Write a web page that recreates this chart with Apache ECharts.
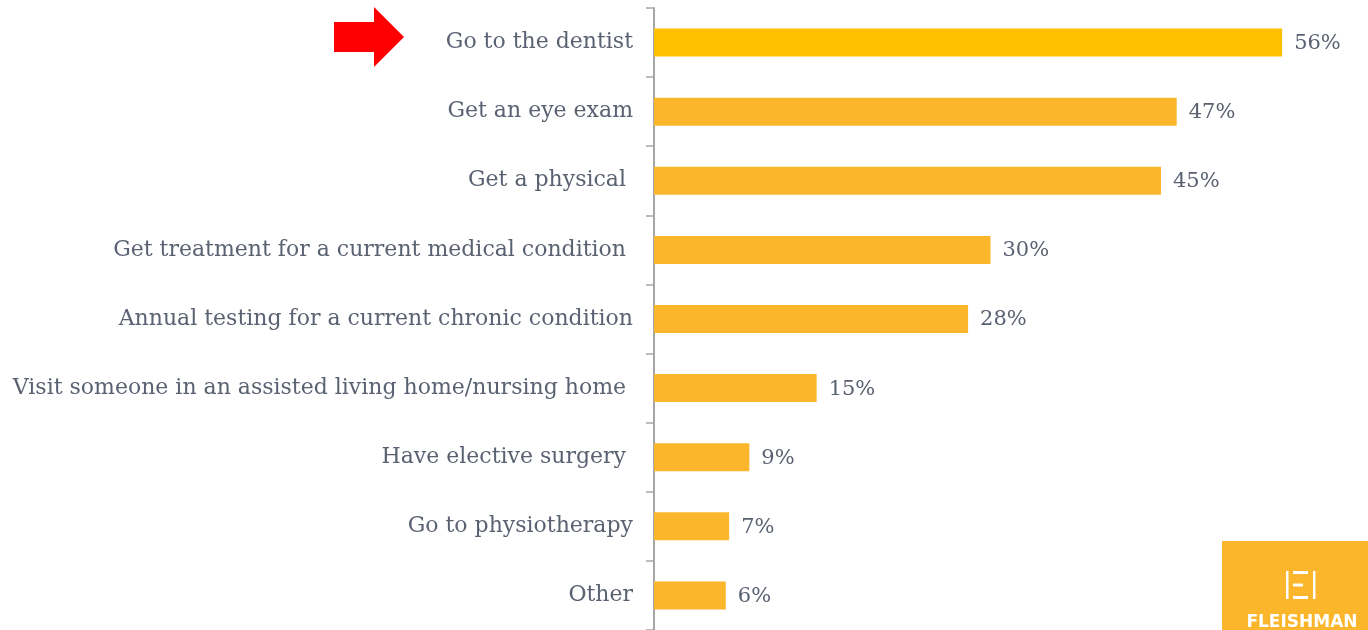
<!DOCTYPE html>
<html><head><meta charset="utf-8">
<script src="https://cdn.jsdelivr.net/npm/echarts@6/dist/echarts.min.js"></script>
<style>html,body{margin:0;padding:0;background:#fff}#c{width:1368px;height:630px}</style>
</head><body><div id="c"></div>
<script>
const categories = ["Go to the dentist","Get an eye exam","Get a physical ","Get treatment for a current medical condition ","Annual testing for a current chronic condition","Visit someone in an assisted living home/nursing home ","Have elective surgery ","Go to physiotherapy","Other"];
const values = [56, 46.6, 45.2, 30.0, 28.0, 14.5, 8.5, 6.7, 6.4];
const valueLabels = ["56%","47%","45%","30%","28%","15%","9%","7%","6%"];
const highlightColor = "#FFC000";
const barColor = "#FBB62B";
const chart = echarts.init(document.getElementById('c'));
const font = "'DejaVu Serif', Georgia, serif";
chart.setOption({
  animation:false,
  grid:{left:654,right:41,top:8,bottom:0,containLabel:false},
  xAxis:{type:'value',min:0,max:60,show:false},
  yAxis:{type:'category',data:categories,inverse:true,
    axisLine:{show:true,lineStyle:{color:'#A6A6A6',width:2}},
    axisTick:{show:true,length:8,inside:false,lineStyle:{color:'#A6A6A6',width:1.5}},
    axisLabel:{color:'#5A6272',fontFamily:font,fontSize:22,margin:21,lineHeight:26,padding:[4,0,0,0]}
  },
  series:[{type:'bar',barWidth:28,
    data:values.map((v,i)=>({value:v,itemStyle:{color:i===0?highlightColor:barColor}})),
    label:{show:true,position:'right',distance:12,color:'#5A6272',fontFamily:font,fontSize:21,offset:[0,1],
      formatter:p=>valueLabels[p.dataIndex]}
  }],
  graphic:[
    {type:'polygon',shape:{points:[[334,22],[374,22],[374,7],[404,37],[374,67],[374,52],[334,52]]},style:{fill:'#FF0000'}},
    {type:'rect',shape:{x:1222,y:541,width:146,height:89},style:{fill:'#FBB62B'}},
    {type:'group',children:[
      {type:'rect',shape:{x:1286,y:571,width:2.5,height:28},style:{fill:'#fff'}},
      {type:'rect',shape:{x:1313,y:571,width:2.5,height:28},style:{fill:'#fff'}},
      {type:'rect',shape:{x:1293,y:571,width:15,height:3},style:{fill:'#fff'}},
      {type:'rect',shape:{x:1293,y:583.5,width:10,height:3},style:{fill:'#fff'}},
      {type:'rect',shape:{x:1293,y:596,width:15,height:3},style:{fill:'#fff'}}
    ]},
    {type:'text',style:{text:'FLEISHMAN',x:1302,y:623,fill:'#fff',font:"bold 17px 'DejaVu Sans', sans-serif",textAlign:'center',textVerticalAlign:'middle'}}
  ]
});
</script></body></html>
